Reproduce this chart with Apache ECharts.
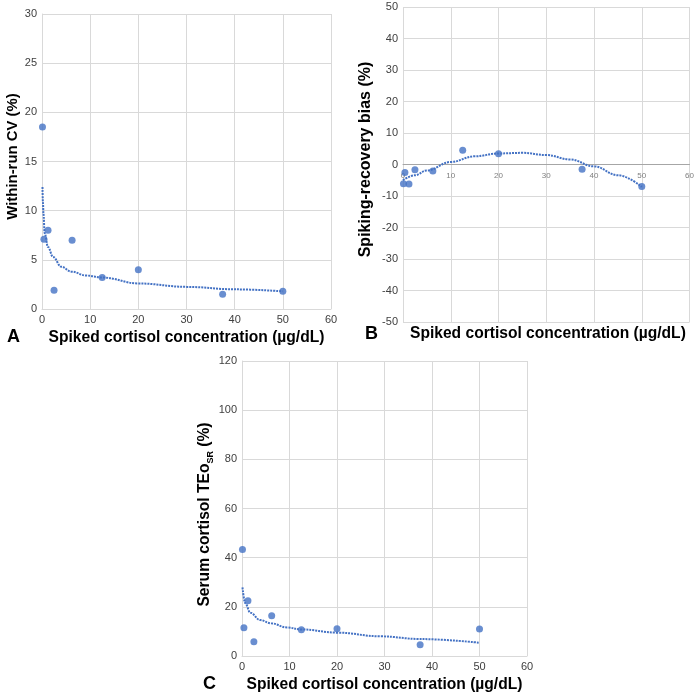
<!DOCTYPE html>
<html>
<head>
<meta charset="utf-8">
<script src="https://cdn.jsdelivr.net/npm/echarts@6/dist/echarts.min.js"></script>
<style>
  html, body { margin: 0; padding: 0; background: #fff; }
  #chart { width: 697px; height: 695px; }
</style>
</head>
<body>
<div id="chart"></div>
<script>
// Spiked concentrations (ug/dL), shared by the three panels
const spikedConc = [0.1, 0.4, 1.25, 2.5, 6.25, 12.5, 20, 37.5, 50];

// Panel A - within-run CV (%)
const withinRunCV = [18.5, 7.1, 8.0, 1.9, 7.0, 3.2, 4.0, 1.5, 1.8];
const cvTrendX = [0.1, 0.2, 0.3, 0.55, 1.25, 2.3, 4, 6.1, 9.2, 12.5, 20, 30, 40, 50];
const cvTrendY = [12.4, 10.8, 9.7, 7.7, 6.3, 5.3, 4.3, 3.8, 3.4, 3.2, 2.6, 2.25, 2.0, 1.8];

// Panel B - spiking-recovery bias (%)
const recoveryBias = [-6.1, -2.5, -6.2, -1.7, -2.1, 4.5, 3.4, -1.5, -7.0];
const biasTrendX = [0, 2.5, 5, 10, 15, 20, 25, 30, 35, 40, 45, 50];
const biasTrendY = [-5.0, -3.4, -1.9, 0.8, 2.6, 3.5, 3.7, 3.0, 1.6, -0.6, -3.4, -7.1];

// Panel C - serum cortisol TEo SR (%)
const teoSR = [43.3, 11.5, 22.5, 5.8, 16.4, 10.7, 11.1, 4.6, 11.0];
const teoTrendX = [0.1, 0.7, 1.75, 3.85, 6.1, 9.5, 12.5, 20, 29.2, 37.5, 50];
const teoTrendY = [27.9, 21.4, 17.6, 14.6, 13.3, 11.6, 10.8, 9.5, 8.0, 6.9, 5.4];

const xAxisName = 'Spiked cortisol concentration (\u00b5g/dL)';
const pointColor = '#4472C4';
const gridColor = '#d9d9d9';
const font = 'Liberation Sans, Arial, sans-serif';

const pairs = (xs, ys) => xs.map((x, i) => [x, ys[i]]);

const labelStyle = { color: '#404040', fontSize: 11, fontFamily: font };
const nameStyle = { color: '#000', fontSize: 15.6, fontWeight: 'bold', fontFamily: font };

function valueAxis(gridIndex, min, max, interval, extra) {
  return Object.assign({
    type: 'value',
    gridIndex: gridIndex,
    min: min,
    max: max,
    interval: interval,
    axisLine: { show: true, onZero: false, lineStyle: { color: gridColor } },
    axisTick: { show: false },
    axisLabel: Object.assign({ margin: 5 }, labelStyle),
    splitLine: { show: true, lineStyle: { color: gridColor, width: 1 } },
    nameTextStyle: nameStyle
  }, extra || {});
}

function scatter(idx, ys) {
  return {
    type: 'scatter',
    xAxisIndex: idx,
    yAxisIndex: idx,
    data: pairs(spikedConc, ys),
    symbolSize: 7,
    itemStyle: { color: pointColor },
    z: 3
  };
}

function trend(idx, xs, ys) {
  return {
    type: 'line',
    xAxisIndex: idx,
    yAxisIndex: idx,
    data: pairs(xs, ys),
    showSymbol: false,
    smooth: 0.4,
    smoothMonotone: 'x',
    lineStyle: { color: pointColor, width: 2, type: [2, 1] },
    z: 2
  };
}

const chart = echarts.init(document.getElementById('chart'), null, { renderer: 'canvas' });

// panel B: the x axis sits on y = 0, half way up its grid
const gridB = { left: 403, top: 7, width: 287, height: 315 };

const option = {
  animation: false,
  grid: [
    { left: 42, top: 14, width: 289, height: 295 },
    gridB,
    { left: 242, top: 361, width: 285, height: 295 }
  ],
  xAxis: [
    valueAxis(0, 0, 60, 10, {
      name: xAxisName, nameLocation: 'middle', nameGap: 21
    }),
    valueAxis(1, 0, 60, 10, {
      offset: -gridB.height / 2,
      axisLine: { show: true, onZero: false, lineStyle: { color: '#a6a6a6' } },
      axisLabel: { color: '#7f7f7f', fontSize: 8, fontFamily: font, margin: 7 }
    }),
    valueAxis(2, 0, 60, 10, {
      name: xAxisName, nameLocation: 'middle', nameGap: 21
    })
  ],
  yAxis: [
    valueAxis(0, 0, 30, 5, {
      name: 'Within-run CV (%)', nameLocation: 'middle', nameRotate: 90, nameGap: 22,
      nameTextStyle: Object.assign({}, nameStyle, { fontSize: 14.9, padding: [0, 0, 0, 10] })
    }),
    valueAxis(1, -50, 50, 10, {
      axisLine: { show: false },
      name: 'Spiking-recovery bias (%)', nameLocation: 'middle', nameRotate: 90, nameGap: 29,
      nameTextStyle: Object.assign({}, nameStyle, { fontSize: 16, padding: [0, 0, 0, 10] })
    }),
    valueAxis(2, 0, 120, 20, {
      name: '{main|Serum cortisol TEo}{sub|SR}{main| (%)}',
      nameLocation: 'middle', nameRotate: 90, nameGap: 27,
      nameTextStyle: Object.assign({}, nameStyle, {
        padding: [0, 12, 0, 0],
        rich: {
          main: { fontSize: 15.6, fontWeight: 'bold', fontFamily: font, color: '#000', lineHeight: 20 },
          sub: { fontSize: 9, fontWeight: 'bold', fontFamily: font, color: '#000', verticalAlign: 'bottom', lineHeight: 20 }
        }
      })
    })
  ],
  graphic: [
    { type: 'text', left: 7, top: 328, style: { text: 'A', font: 'bold 18px ' + font, fill: '#000' } },
    { type: 'text', left: 365, top: 325, style: { text: 'B', font: 'bold 18px ' + font, fill: '#000' } },
    { type: 'text', left: 203, top: 675, style: { text: 'C', font: 'bold 18px ' + font, fill: '#000' } },
    { type: 'text', left: 410, top: 326, style: { text: xAxisName, font: 'bold 15.6px ' + font, fill: '#000' } }
  ],
  series: [
    trend(0, cvTrendX, cvTrendY),
    scatter(0, withinRunCV),
    trend(1, biasTrendX, biasTrendY),
    scatter(1, recoveryBias),
    trend(2, teoTrendX, teoTrendY),
    scatter(2, teoSR)
  ]
};

chart.setOption(option);
</script>
</body>
</html>
